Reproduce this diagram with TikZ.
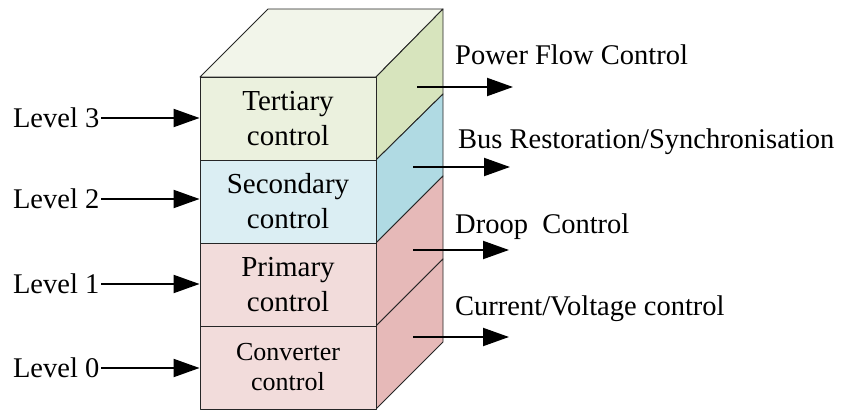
\documentclass[tikz,border=0pt]{standalone}
\usepackage{fontspec}
\setmainfont{Liberation Serif}
\usetikzlibrary{arrows.meta}
\definecolor{topc}{HTML}{F2F5EA}
\definecolor{fr3}{HTML}{EBF1DE}
\definecolor{rt3}{HTML}{D7E4BD}
\definecolor{fr2}{HTML}{DBEEF3}
\definecolor{rt2}{HTML}{B0DAE3}
\definecolor{fr1}{HTML}{F2DCDB}
\definecolor{rt1}{HTML}{E6B9B8}
\begin{document}
\begin{tikzpicture}[x=1pt,y=-1pt,
  face/.style={draw=black!85,line width=0.9pt,line join=round},
  layer/.style={face,rectangle,minimum width=176pt,minimum height=83pt,inner sep=0pt,align=center,font=\fontsize{29}{35}\selectfont},
  lvl/.style={inner sep=1.5pt,anchor=east,font=\fontsize{28.5}{34}\selectfont},
  lab/.style={inner sep=0pt,anchor=base west,font=\fontsize{28.5}{34}\selectfont},
  arr/.style={line width=2pt,-{Triangle[length=26pt,width=18pt]}}]
\useasboundingbox (0,0) rectangle (847,412);
% top face
\filldraw[face,fill=topc] (200,77) -- (268,9) -- (443,9) -- (376,77) -- cycle;
% right faces
\filldraw[face,fill=rt3] (376,77) -- (443,9) -- (443,94) -- (376,160) -- cycle;
\filldraw[face,fill=rt2] (376,160) -- (443,94) -- (443,176) -- (376,243) -- cycle;
\filldraw[face,fill=rt1] (376,243) -- (443,176) -- (443,259) -- (376,326) -- cycle;
\filldraw[face,fill=rt1] (376,326) -- (443,259) -- (443,342) -- (376,409) -- cycle;
% front faces
\node[layer,fill=fr3] (L3) at (288,118.5) {Tertiary\\control};
\node[layer,fill=fr2] (L2) at (288,201.5) {Secondary\\control};
\node[layer,fill=fr1] (L1) at (288,284.5) {Primary\\control};
\node[layer,fill=fr1,font=\fontsize{26}{30}\selectfont] (L0) at (288,367.5) {Converter\\control};
% level labels
\node[lvl] (v3) at (101,118) {Level 3};
\node[lvl] (v2) at (101,199) {Level 2};
\node[lvl] (v1) at (101,284) {Level 1};
\node[lvl] (v0) at (101,368) {Level 0};
\draw[arr] (v3.east) -- (v3.east -| L3.west);
\draw[arr] (v2.east) -- (v2.east -| L2.west);
\draw[arr] (v1.east) -- (v1.east -| L1.west);
\draw[arr] (v0.east) -- (v0.east -| L0.west);
% right labels and arrows
\node[lab] (t3) at (455,65) {Power Flow Control};
\node[lab] (t2) at (458,148) {Bus Restoration/Synchronisation};
\node[lab] (t1) at (455,233) {Droop~~Control};
\node[lab] (t0) at (455,315) {Current/Voltage control};
\coordinate (s3) at (417,87);  \coordinate (e3) at (513,87);
\coordinate (s2) at (413,167); \coordinate (e2) at (510,167);
\coordinate (s1) at (413,250); \coordinate (e1) at (509,250);
\coordinate (s0) at (413,337); \coordinate (e0) at (509,337);
\draw[arr] (s3) -- (e3);
\draw[arr] (s2) -- (e2);
\draw[arr] (s1) -- (e1);
\draw[arr] (s0) -- (e0);
\end{tikzpicture}
\end{document}
